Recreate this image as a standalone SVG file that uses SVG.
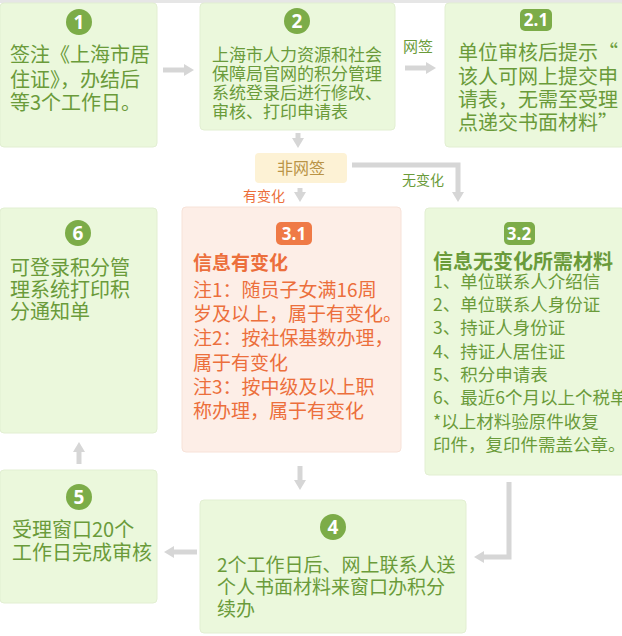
<svg xmlns="http://www.w3.org/2000/svg" width="622" height="636" viewBox="0 0 622 636">
<style>
.g{fill:#ebf8dc;stroke:#e2efd2;stroke-width:1}
.o{fill:#fdeee7;stroke:#f7e2d8;stroke-width:1}
.y{fill:#fdf2d5}
.tg{font-family:"Noto Sans CJK SC","Liberation Sans",sans-serif;fill:#6a9b3a}
.to{font-family:"Noto Sans CJK SC","Liberation Sans",sans-serif;fill:#ec6f3c}
.ty{font-family:"Noto Sans CJK SC","Liberation Sans",sans-serif;fill:#b99447}
.bc{fill:#7cac48}
.bo{fill:#ef7a46}
.bt{font-family:"Open Sans","Liberation Sans",sans-serif;font-weight:bold;fill:#ffffff;text-anchor:middle}
.c{fill:none;stroke:#d6d6d6;stroke-width:5}
</style>
<defs>
<marker id="ah" markerUnits="userSpaceOnUse" markerWidth="14" markerHeight="14" refX="2" refY="7" orient="auto">
<polygon points="0,1 10,7 0,13" fill="#d6d6d6"/>
</marker>
</defs>
<rect x="0" y="0" width="622" height="3" fill="#e6e6e6"/>

<g id="connectors">
<path class="c" d="M163,70 H186" marker-end="url(#ah)"/>
<path class="c" d="M405,68 H428" marker-end="url(#ah)"/>
<path class="c" d="M298,133 V140" marker-end="url(#ah)"/>
<path class="c" d="M352,165 H458 V194" marker-end="url(#ah)"/>
<path class="c" d="M300,188 V194" marker-end="url(#ah)"/>
<path class="c" d="M300,466 V482" marker-end="url(#ah)"/>
<path class="c" d="M509,482 V557 H482" marker-end="url(#ah)"/>
<path class="c" d="M197,552 H172" marker-end="url(#ah)"/>
<path class="c" d="M79,464 V450" marker-end="url(#ah)"/>
<text class="tg" x="403" y="52" font-size="15">网签</text>
<text class="tg" x="402" y="185" font-size="14">无变化</text>
<text class="to" x="243" y="201" font-size="14">有变化</text>
</g>

<g id="n1">
<rect class="g" x="0" y="3" width="157" height="144" rx="4"/>
<circle class="bc" cx="79" cy="22" r="13"/>
<text class="bt" x="79" y="29" font-size="19">1</text>
<text class="tg" font-size="20"><tspan x="10" y="62">签注《上海市居</tspan><tspan x="10" y="87">住证》，办结后</tspan><tspan x="10" y="110">等3个工作日。</tspan></text>
</g>

<g id="n2">
<rect class="g" x="200" y="3" width="195" height="127" rx="4"/>
<circle class="bc" cx="297" cy="21" r="13"/>
<text class="bt" x="297" y="28" font-size="19">2</text>
<text class="tg" font-size="17"><tspan x="212" y="61">上海市人力资源和社会</tspan><tspan x="212" y="80">保障局官网的积分管理</tspan><tspan x="212" y="99">系统登录后进行修改、</tspan><tspan x="212" y="118">审核、打印申请表</tspan></text>
</g>

<g id="n21">
<rect class="g" x="445" y="3" width="180" height="144" rx="4"/>
<rect class="bc" x="520" y="9" width="32" height="22" rx="5"/>
<text class="bt" x="536" y="26" font-size="17">2.1</text>
<text class="tg" font-size="20"><tspan x="458" y="60">单位审核后提示“</tspan><tspan x="458" y="84">该人可网上提交申</tspan><tspan x="458" y="107">请表，无需至受理</tspan><tspan x="458" y="130">点递交书面材料”</tspan></text>
</g>

<g id="nfwq">
<rect class="y" x="255" y="153" width="92" height="30" rx="4"/>
<text class="ty" x="301" y="174" font-size="16" text-anchor="middle">非网签</text>
</g>

<g id="n31">
<rect class="o" x="182" y="207" width="219" height="245" rx="4"/>
<rect class="bo" x="276" y="222" width="36" height="23" rx="5"/>
<text class="bt" x="294" y="240" font-size="17">3.1</text>
<text class="to" font-size="19"><tspan x="193" y="270" font-weight="bold">信息有变化</tspan><tspan x="193" y="297">注1：随员子女满16周</tspan><tspan x="193" y="321">岁及以上，属于有变化。</tspan><tspan x="193" y="345">注2：按社保基数办理，</tspan><tspan x="193" y="370">属于有变化</tspan><tspan x="193" y="394">注3：按中级及以上职</tspan><tspan x="193" y="418">称办理，属于有变化</tspan></text>
</g>

<g id="n32">
<rect class="g" x="425" y="208" width="200" height="267" rx="4"/>
<rect class="bc" x="504" y="222" width="31" height="23" rx="5"/>
<text class="bt" x="519" y="240" font-size="17">3.2</text>
<text class="tg" font-size="17.5"><tspan x="433" y="269" font-size="20" font-weight="bold">信息无变化所需材料</tspan><tspan x="433" y="288">1、单位联系人介绍信</tspan><tspan x="433" y="311">2、单位联系人身份证</tspan><tspan x="433" y="334">3、持证人身份证</tspan><tspan x="433" y="358">4、持证人居住证</tspan><tspan x="433" y="381">5、积分申请表</tspan><tspan x="433" y="404">6、最近6个月以上个税单</tspan><tspan x="433" y="428">*以上材料验原件收复</tspan><tspan x="433" y="451">印件，复印件需盖公章。</tspan></text>
</g>

<g id="n6">
<rect class="g" x="0" y="208" width="157" height="225" rx="4"/>
<circle class="bc" cx="78" cy="233" r="13"/>
<text class="bt" x="78" y="240" font-size="19">6</text>
<text class="tg" font-size="20"><tspan x="10" y="275">可登录积分管</tspan><tspan x="10" y="297">理系统打印积</tspan><tspan x="10" y="319">分通知单</tspan></text>
</g>

<g id="n5">
<rect class="g" x="0" y="470" width="157" height="133" rx="4"/>
<circle class="bc" cx="79" cy="497" r="13"/>
<text class="bt" x="79" y="504" font-size="19">5</text>
<text class="tg" font-size="20"><tspan x="12" y="537">受理窗口20个</tspan><tspan x="12" y="560">工作日完成审核</tspan></text>
</g>

<g id="n4">
<rect class="g" x="200" y="500" width="266" height="133" rx="4"/>
<circle class="bc" cx="333" cy="527" r="13"/>
<text class="bt" x="333" y="534" font-size="19">4</text>
<text class="tg" font-size="19"><tspan x="217" y="572">2个工作日后、网上联系人送</tspan><tspan x="217" y="594">个人书面材料来窗口办积分</tspan><tspan x="217" y="616">续办</tspan></text>
</g>
</svg>
